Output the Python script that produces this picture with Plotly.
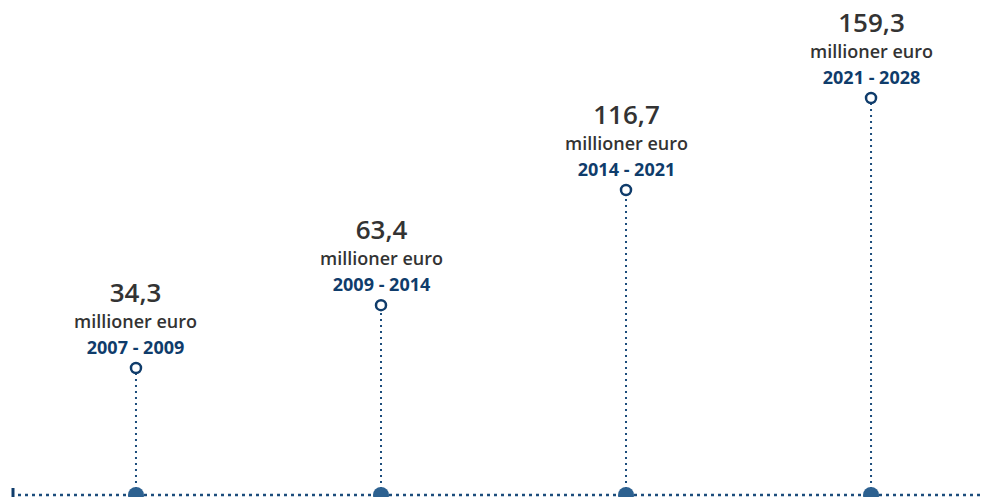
import plotly.graph_objects as go

periods = ["2007 - 2009", "2009 - 2014", "2014 - 2021", "2021 - 2028"]
values = [34.3, 63.4, 116.7, 159.3]
unit_label = "millioner euro"

W, H = 983, 497
# linear value axis; baseline placed below zero so the stems share one baseline
px_per_unit = 2.16
top_px = 442.1  # pixel row of value 0
y_top = top_px / px_per_unit
y_bottom = -(H - top_px) / px_per_unit
y_base = -(495 - top_px) / px_per_unit
y_range = [y_bottom, y_top]
x_pos = list(range(len(values)))
x_range = [-0.555, 3.457]

dark_blue = "#0f3c6b"
stem_blue = "#1c4d7c"
dot_blue = "#2d6190"
text_gray = "#333333"
font_family = "Open Sans, Noto Sans, sans-serif"

fig = go.Figure()

# dotted stems
for x, v in zip(x_pos, values):
    fig.add_trace(go.Scatter(
        x=[x, x], y=[y_base, v], mode="lines",
        line=dict(color=stem_blue, width=2, dash="2px,4px"),
        hoverinfo="skip", showlegend=False,
    ))

# baseline dots
fig.add_trace(go.Scatter(
    x=x_pos, y=[y_base] * len(values), mode="markers",
    marker=dict(size=16, color=dot_blue, line=dict(width=0)),
    cliponaxis=False, hoverinfo="skip", showlegend=False,
))

# open circles at value
fig.add_trace(go.Scatter(
    x=x_pos, y=values, mode="markers",
    marker=dict(size=10, color="white", line=dict(color=dark_blue, width=2.5)),
    cliponaxis=False, showlegend=False,
    hovertemplate="%{y}<extra></extra>",
))

# labels (one block per point)
for x, v, p in zip(x_pos, values, periods):
    num = f"{v:.1f}".replace(".", ",")
    txt = (f"<span style='font-size:26px;font-weight:600;color:{text_gray}'>{num}</span><br>"
           f"<span style='font-size:18px;font-weight:600;color:{text_gray}'>{unit_label}</span><br>"
           f"<span style='font-size:18px;font-weight:700;color:{dark_blue}'>{p}</span>")
    fig.add_annotation(x=x, y=v, text=txt, showarrow=False,
                       yanchor="bottom", yshift=7, align="center",
                       font=dict(family=font_family, size=20, color=text_gray))

# baseline dotted line and left tick
fig.add_shape(type="line", xref="paper", yref="y", x0=18 / W, x1=1, y0=y_base, y1=y_base,
              line=dict(color=stem_blue, width=2.5, dash="3px,4px"), layer="below")
fig.add_shape(type="line", xref="paper", yref="paper", x0=13 / W, x1=13 / W, y0=0, y1=9 / H,
              line=dict(color=dark_blue, width=3))

fig.update_layout(
    width=W, height=H,
    margin=dict(l=0, r=0, t=0, b=0),
    paper_bgcolor="white", plot_bgcolor="white",
    xaxis=dict(range=x_range, visible=False, fixedrange=True),
    yaxis=dict(range=y_range, visible=False, fixedrange=True),
    font=dict(family=font_family),
)

fig.write_html(
    "out.html",
    config={"displayModeBar": False},
    post_script="document.body.style.margin='0px';document.body.style.overflow='hidden';",
)
